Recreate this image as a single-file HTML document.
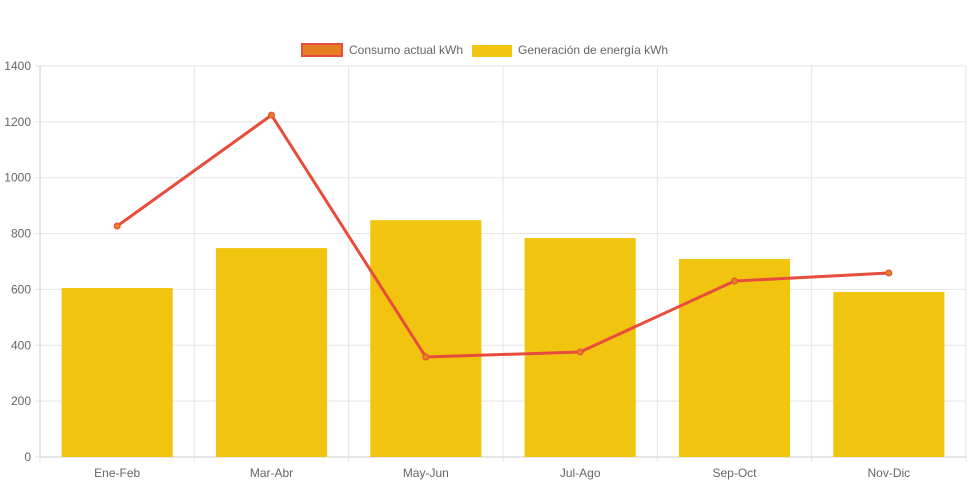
<!DOCTYPE html>
<html><head><meta charset="utf-8"><style>
body{margin:0;background:#fff;font-family:"Liberation Sans",sans-serif}
svg{display:block}
</style></head><body>
<svg id="c" width="971" height="485"></svg>
<script>
const categories=["Ene-Feb","Mar-Abr","May-Jun","Jul-Ago","Sep-Oct","Nov-Dic"];
const generation=[605,748,848,784,709,591];
const consumption=[827,1224,358,376,630,659];
const yTicks=[0,200,400,600,800,1000,1200,1400];
const NS="http://www.w3.org/2000/svg";
const svg=document.getElementById('c');
const L=40,R=966,T=66,B=457,yMax=1400;
const cw=(R-L)/categories.length;
const y=v=>B-(v/yMax)*(B-T);
const xc=i=>L+cw*(i+0.5);
function mk(t,a,p){const e=document.createElementNS(NS,t);for(const k in a)e.setAttribute(k,a[k]);(p||svg).appendChild(e);return e;}
yTicks.forEach(v=>{
 const g=mk('line',{x1:L-5,x2:R,y1:y(v),y2:y(v),stroke:'#e5e5e5','stroke-width':1});
 
 
 const t=mk('text',{x:L-9,y:y(v)+4,'text-anchor':'end','font-size':12,fill:'#666'});
 t.textContent=v;
 
 
});
for(let i=0;i<=categories.length;i++){
 const g=mk('line',{x1:L+cw*i,x2:L+cw*i,y1:T,y2:B+5,stroke:'#e5e5e5','stroke-width':1});
 
 
}
mk('line',{x1:L,x2:R,y1:B,y2:B,stroke:'#ccc'});
mk('line',{x1:L,x2:L,y1:T,y2:B,stroke:'#ccc'});
const bw=cw*0.72;
generation.forEach((v,i)=>{
 const r=mk('rect',{x:xc(i)-bw/2,y:y(v),width:bw,height:B-y(v),fill:'#f1c40f'});
 
 
});
categories.forEach((c,i)=>{
 const t=mk('text',{x:xc(i),y:B+20,'text-anchor':'middle','font-size':12,fill:'#666'});
 t.textContent=c;
 
 
});
const pl=mk('polyline',{points:consumption.map((v,i)=>xc(i)+','+y(v)).join(' '),fill:'none',stroke:'#e74c3c','stroke-width':3});


consumption.forEach((v,i)=>{
 const p=mk('circle',{cx:xc(i),cy:y(v),r:3,fill:'#e67e22',stroke:'#e74c3c','stroke-width':1});
 
 
});
</script>
<div style="position:absolute;left:0;top:0;width:971px;height:60px">
 <div style="position:absolute;left:301px;top:43px;display:flex;align-items:center;font-size:12px;color:#666">
  <span style="width:38px;height:10px;background:#e67e22;border:2px solid #e74c3c;margin-right:6px"></span>Consumo actual kWh</div>
 <div style="position:absolute;left:472px;top:43px;display:flex;align-items:center;font-size:12px;color:#666">
  <span style="width:40px;height:12px;background:#f1c40f;margin-right:6px;margin-top:1px"></span>Generación de energía kWh</div>
</div>
</body></html>
